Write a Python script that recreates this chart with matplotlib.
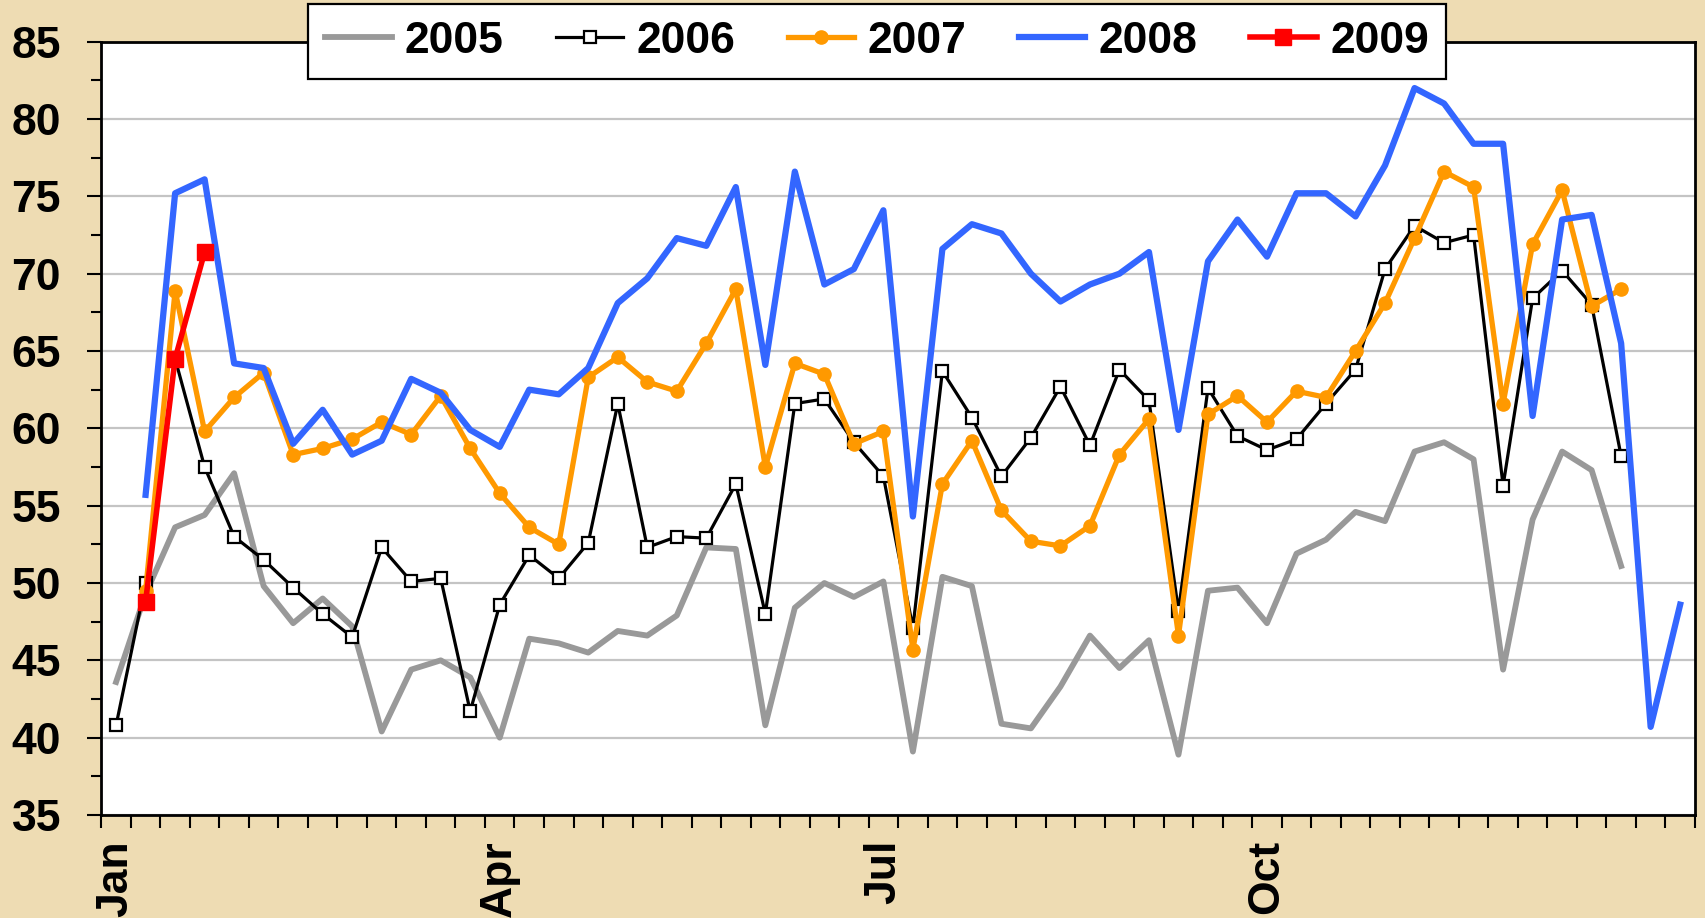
import matplotlib
matplotlib.use('Agg')
import matplotlib.pyplot as plt
import numpy as np
from matplotlib.ticker import FixedLocator, MultipleLocator

plt.rcParams['font.family'] = ['Liberation Sans', 'DejaVu Sans']
plt.rcParams['font.weight'] = 'bold'

n_weeks = 54
month_labels = ["Jan", "Apr", "Jul", "Oct"]
month_pos = [0, 13, 26, 39]

series_names = ["2005", "2006", "2007", "2008", "2009"]

# 2005: weeks 0..51
v2005 = [43.6, 49.3, 53.6, 54.4, 57.1, 49.8, 47.4, 49.0, 47.2, 40.4,
         44.4, 45.0, 43.9, 40.0, 46.4, 46.1, 45.5, 46.9, 46.6, 47.9,
         52.3, 52.2, 40.8, 48.4, 50.0, 49.1, 50.1, 39.1, 50.4, 49.8,
         40.9, 40.6, 43.3, 46.6, 44.5, 46.3, 38.9, 49.5, 49.7, 47.4,
         51.9, 52.8, 54.6, 54.0, 58.5, 59.1, 58.0, 44.4, 54.1, 58.5,
         57.3, 51.1]
start2005 = 0

# 2006: weeks 0..51
v2006 = [40.8, 50.0, 64.5, 57.5, 53.0, 51.5, 49.7, 48.0, 46.5, 52.3,
         50.1, 50.3, 41.7, 48.6, 51.8, 50.3, 52.6, 61.6, 52.3, 53.0,
         52.9, 56.4, 48.0, 61.6, 61.9, 59.1, 56.9, 47.1, 63.7, 60.7,
         56.9, 59.4, 62.7, 58.9, 63.8, 61.8, 48.2, 62.6, 59.5, 58.6,
         59.3, 61.6, 63.8, 70.3, 73.1, 72.0, 72.5, 56.3, 68.4, 70.2,
         68.0, 58.2]
start2006 = 0

# 2007: weeks 1..51
v2007 = [49.5, 68.9, 59.8, 62.0, 63.6, 58.3, 58.7, 59.3, 60.4,
         59.6, 62.1, 58.7, 55.8, 53.6, 52.5, 63.3, 64.6, 63.0, 62.4,
         65.5, 69.0, 57.5, 64.2, 63.5, 59.0, 59.8, 45.7, 56.4, 59.2,
         54.7, 52.7, 52.4, 53.7, 58.3, 60.6, 46.6, 60.9, 62.1, 60.4,
         62.4, 62.0, 65.0, 68.1, 72.3, 76.6, 75.6, 61.6, 71.9, 75.4,
         67.9, 69.0]
start2007 = 1

# 2008: weeks 1..53
v2008 = [55.7, 75.2, 76.1, 64.2, 63.9, 59.0, 61.2, 58.3, 59.2,
         63.2, 62.3, 59.9, 58.8, 62.5, 62.2, 63.9, 68.1, 69.7, 72.3,
         71.8, 75.6, 64.1, 76.6, 69.3, 70.3, 74.1, 54.3, 71.6, 73.2,
         72.6, 70.0, 68.2, 69.3, 70.0, 71.4, 59.9, 70.8, 73.5, 71.1,
         75.2, 75.2, 73.7, 77.0, 82.0, 81.0, 78.4, 78.4, 60.8, 73.5,
         73.8, 65.5, 40.7, 48.6]
start2008 = 1

# 2009: weeks 1..3
v2009 = [48.8, 64.5, 71.4]
start2009 = 1


def padded(vals, start):
    out = [np.nan] * n_weeks
    for i, v in enumerate(vals):
        out[start + i] = v
    return np.array(out, dtype=float)


x = np.arange(n_weeks)

fig = plt.figure(figsize=(17.06, 9.18), dpi=100, facecolor='#EEDCB3')
ax = fig.add_axes([0.0594, 0.1122, 0.9341, 0.8424])
ax.set_facecolor('white')

h2005, = ax.plot(x, padded(v2005, start2005), color='#999999', lw=4.2, zorder=2,
                 label=series_names[0])
h2006, = ax.plot(x, padded(v2006, start2006), color='black', lw=2.3, marker='s',
                 markersize=8.5, markerfacecolor='white', markeredgecolor='black',
                 markeredgewidth=1.6, zorder=3, label=series_names[1])
h2007, = ax.plot(x, padded(v2007, start2007), color='#FF9900', lw=3.8, marker='o',
                 markersize=9.5, markerfacecolor='#FF9900', markeredgecolor='#FF9900',
                 zorder=4, label=series_names[2])
h2008, = ax.plot(x, padded(v2008, start2008), color='#3366FF', lw=4.5, zorder=5,
                 label=series_names[3])
h2009, = ax.plot(x, padded(v2009, start2009), color='#FF0000', lw=4.0, marker='s',
                 markersize=11.5, markerfacecolor='#FF0000', markeredgecolor='#FF0000',
                 zorder=6, label=series_names[4])

ax.set_xlim(-0.5, n_weeks - 0.5)
ax.set_ylim(35, 85)

ax.set_xticks(month_pos)
ax.set_xticklabels(month_labels, rotation=90, fontsize=32, fontweight='bold')
ax.xaxis.set_minor_locator(FixedLocator(np.arange(-0.5, n_weeks, 1)))
ax.tick_params(axis='x', which='major', length=0, pad=18)
ax.tick_params(axis='x', which='minor', length=9.5, width=1.5, direction='out', color='black')

ax.set_yticks(np.arange(35, 86, 5))
ax.set_yticklabels([str(v) for v in range(35, 86, 5)], fontsize=32, fontweight='bold')
ax.yaxis.set_minor_locator(MultipleLocator(2.5))
ax.tick_params(axis='y', which='major', length=10, width=1.5, pad=19, direction='out')
ax.tick_params(axis='y', which='minor', length=7, width=1.5, direction='out')

ax.grid(axis='y', which='major', color='#C4C4C4', lw=1.6)
ax.set_axisbelow(True)
for s in ax.spines.values():
    s.set_linewidth(2.0)
    s.set_color('black')

leg = fig.legend(handles=[h2005, h2006, h2007, h2008, h2009],
                 labels=series_names, loc='center',
                 bbox_to_anchor=(0.514, 0.9548), ncol=5, frameon=True,
                 fancybox=False, edgecolor='black', framealpha=1, facecolor='white',
                 prop=dict(family='Liberation Sans', weight='bold', size=32),
                 handlelength=1.5, handletextpad=0.3, columnspacing=1.18,
                 borderpad=0.38, numpoints=1)
leg.get_frame().set_linewidth(1.6)

fig.savefig('out.png', dpi=100, facecolor=fig.get_facecolor())
